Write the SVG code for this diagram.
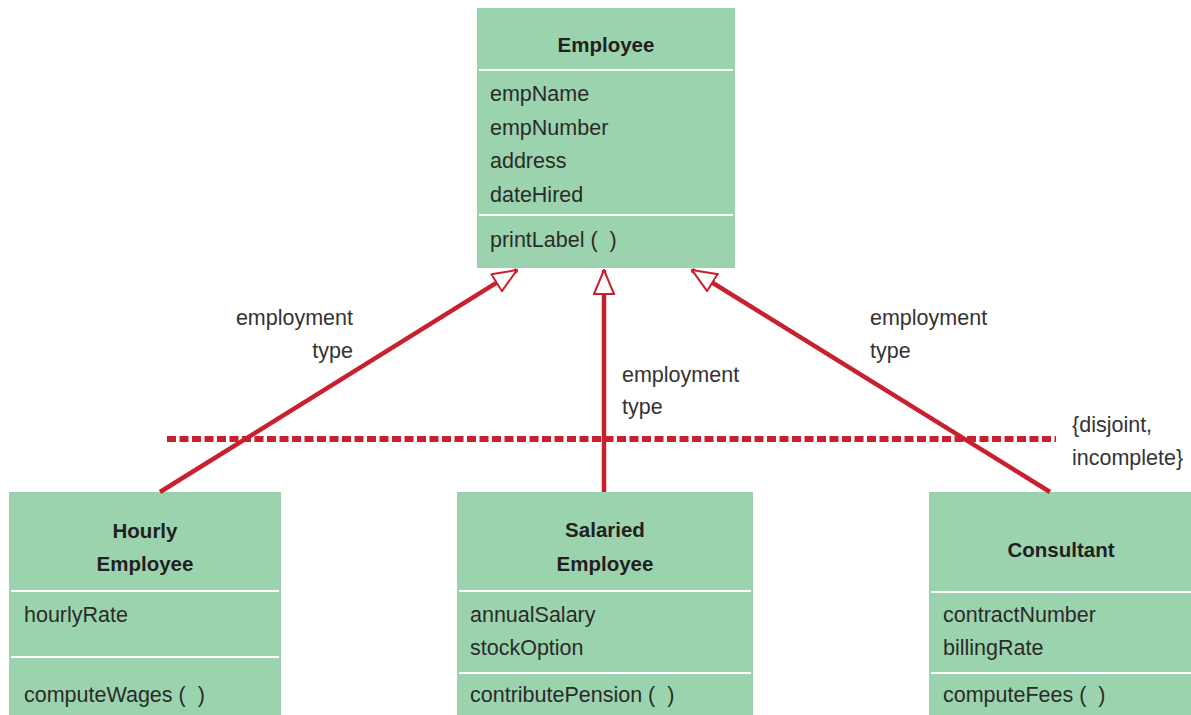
<svg xmlns="http://www.w3.org/2000/svg" width="1191" height="715" viewBox="0 0 1191 715">
<defs>
<style>
.box{fill:#9bd3ae;}
.div{stroke:#ffffff;stroke-width:2;}
.t{font-family:"Liberation Sans",Arial,sans-serif;font-size:21.5px;fill:#2b2b2b;}
.b{font-family:"Liberation Sans",Arial,sans-serif;font-size:20.5px;font-weight:bold;fill:#231f20;text-anchor:middle;}
.lbl{font-family:"Liberation Sans",Arial,sans-serif;font-size:21.5px;fill:#333333;}
.conn{stroke:#c9202f;stroke-width:4.5;fill:none;}
.dash{stroke:#c9202f;stroke-width:6;stroke-dasharray:9 3.5;fill:none;}
</style>
<marker id="tri" viewBox="0 0 26 22" refX="25" refY="11" markerWidth="26" markerHeight="22" markerUnits="userSpaceOnUse" orient="auto">
<path d="M1,1 L25,11 L1,21 Z" fill="#ffffff" stroke="#c9202f" stroke-width="2"/>
</marker>
</defs>
<rect width="1191" height="715" fill="#ffffff"/>

<g id="employee">
<rect class="box" x="477" y="8" width="258" height="260"/>
<line class="div" x1="479" y1="70" x2="733" y2="70"/>
<line class="div" x1="479" y1="215" x2="733" y2="215"/>
<text class="b" x="606" y="52">Employee</text>
<text class="t" x="490" y="101">empName</text>
<text class="t" x="490" y="135">empNumber</text>
<text class="t" x="490" y="168">address</text>
<text class="t" x="490" y="202">dateHired</text>
<text class="t" x="490" y="247">printLabel (&#160;&#160;)</text>
</g>

<g id="hourly">
<rect class="box" x="9" y="492" width="272" height="230"/>
<line class="div" x1="11" y1="591" x2="279" y2="591"/>
<line class="div" x1="11" y1="657" x2="279" y2="657"/>
<text class="b" x="145" y="538">Hourly</text>
<text class="b" x="145" y="571">Employee</text>
<text class="t" x="24" y="622">hourlyRate</text>
<text class="t" x="24" y="702">computeWages (&#160;&#160;)</text>
</g>

<g id="salaried">
<rect class="box" x="457" y="492" width="296" height="230"/>
<line class="div" x1="459" y1="591" x2="751" y2="591"/>
<line class="div" x1="459" y1="673" x2="751" y2="673"/>
<text class="b" x="605" y="537">Salaried</text>
<text class="b" x="605" y="571">Employee</text>
<text class="t" x="470" y="622">annualSalary</text>
<text class="t" x="470" y="655">stockOption</text>
<text class="t" x="470" y="702">contributePension (&#160;&#160;)</text>
</g>

<g id="consultant">
<rect class="box" x="929" y="492" width="266" height="230"/>
<line class="div" x1="931" y1="592" x2="1195" y2="592"/>
<line class="div" x1="931" y1="673" x2="1195" y2="673"/>
<text class="b" x="1061" y="557">Consultant</text>
<text class="t" x="943" y="622">contractNumber</text>
<text class="t" x="943" y="655">billingRate</text>
<text class="t" x="943" y="702">computeFees (&#160;&#160;)</text>
</g>

<g id="connectors">
<line class="dash" x1="167" y1="439" x2="1056" y2="439"/>
<line class="conn" x1="160" y1="492" x2="517" y2="270" marker-end="url(#tri)"/>
<line class="conn" x1="604" y1="492" x2="604" y2="270" marker-end="url(#tri)"/>
<line class="conn" x1="1050" y1="492" x2="692" y2="270" marker-end="url(#tri)"/>
</g>

<g id="labels">
<text class="lbl" x="353" y="325" text-anchor="end">employment</text>
<text class="lbl" x="353" y="358" text-anchor="end">type</text>
<text class="lbl" x="622" y="382">employment</text>
<text class="lbl" x="622" y="414">type</text>
<text class="lbl" x="870" y="325">employment</text>
<text class="lbl" x="870" y="358">type</text>
<text class="lbl" x="1072" y="432">{disjoint,</text>
<text class="lbl" x="1072" y="465">incomplete}</text>
</g>
</svg>
